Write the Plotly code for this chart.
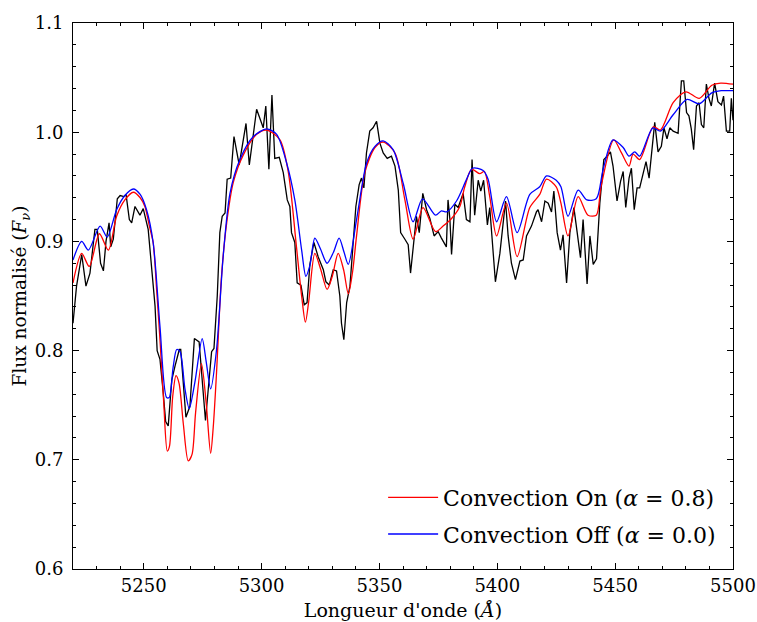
import plotly.graph_objects as go

# Observed spectrum (black)
obs_wl = [5220.0, 5221.5, 5223.7, 5225.5, 5227.2, 5229.3, 5230.3, 5231.7, 5232.9, 5234.0,
          5235.3, 5236.0, 5237.1, 5238.8, 5240.0, 5241.6, 5242.5, 5243.9, 5244.9, 5246.3,
          5248.4, 5249.8, 5251.9, 5253.4, 5254.8, 5255.7, 5256.9, 5258.3, 5259.3, 5260.4,
          5261.9, 5263.3, 5265.1, 5265.7, 5266.8, 5267.9, 5269.6, 5271.5, 5273.5, 5276.2,
          5278.8, 5279.8, 5281.2, 5282.3, 5283.3, 5284.5, 5285.4, 5286.9, 5288.3, 5290.5,
          5293.4, 5294.8, 5297.9, 5300.7, 5301.8, 5303.1, 5304.4, 5305.6, 5307.5, 5309.2,
          5310.9, 5312.0, 5312.7, 5314.1, 5315.1, 5316.7, 5318.1, 5319.3, 5320.5, 5322.2,
          5324.0, 5326.2, 5327.3, 5328.7, 5330.4, 5331.8, 5333.2, 5333.9, 5334.9, 5336.1,
          5337.5, 5338.9, 5340.0, 5341.4, 5342.4, 5343.4, 5344.5, 5345.9, 5347.3, 5348.8,
          5350.2, 5351.6, 5353.3, 5355.1, 5356.6, 5358.0, 5359.0, 5360.8, 5362.2, 5363.2,
          5364.3, 5365.7, 5366.9, 5368.4, 5370.0, 5371.4, 5373.2, 5374.9, 5376.3, 5378.4,
          5379.1, 5379.9, 5380.6, 5382.0, 5383.4, 5385.5, 5386.9, 5388.4, 5389.3, 5390.4,
          5391.9, 5393.0, 5394.2, 5395.8, 5396.8, 5397.8, 5399.2, 5401.1, 5402.5, 5403.5,
          5404.6, 5406.0, 5407.7, 5409.6, 5411.0, 5412.4, 5414.5, 5416.6, 5417.3, 5418.8,
          5420.2, 5421.6, 5423.0, 5424.0, 5425.4, 5426.8, 5427.9, 5429.4, 5430.8, 5432.5,
          5433.9, 5435.3, 5436.4, 5438.1, 5439.3, 5440.7, 5442.1, 5443.5, 5445.2, 5446.6,
          5448.0, 5449.1, 5450.8, 5452.3, 5453.4, 5454.5, 5455.9, 5456.9, 5458.1, 5459.3,
          5460.4, 5461.9, 5463.1, 5464.4, 5465.8, 5466.8, 5468.2, 5469.6, 5470.7, 5472.0,
          5473.2, 5474.6, 5476.7, 5478.1, 5479.1, 5480.3, 5481.3, 5482.3, 5483.3, 5484.5,
          5485.6, 5486.6, 5487.6, 5488.7, 5489.8, 5490.8, 5492.2, 5493.6, 5495.1, 5496.0,
          5497.2, 5498.6, 5499.3, 5500.0]
obs_flux = [0.825, 0.859, 0.888, 0.859, 0.871, 0.911, 0.911, 0.880, 0.873, 0.900,
            0.917, 0.895, 0.902, 0.939, 0.942, 0.941, 0.943, 0.920, 0.917, 0.932,
            0.924, 0.930, 0.911, 0.875, 0.841, 0.800, 0.792, 0.761, 0.735, 0.731,
            0.773, 0.786, 0.801, 0.801, 0.767, 0.739, 0.749, 0.811, 0.808, 0.736,
            0.799, 0.802, 0.850, 0.908, 0.923, 0.926, 0.957, 0.958, 0.996, 0.970,
            1.008, 0.970, 1.021, 1.004, 1.024, 0.966, 1.034, 0.976, 0.977, 0.963,
            0.938, 0.932, 0.908, 0.899, 0.862, 0.860, 0.842, 0.844, 0.879, 0.899,
            0.886, 0.874, 0.863, 0.860, 0.874, 0.873, 0.850, 0.825, 0.810, 0.844,
            0.859, 0.899, 0.932, 0.952, 0.958, 0.949, 0.981, 1.001, 1.004, 1.010,
            0.990, 0.981, 0.976, 0.978, 0.969, 0.947, 0.908, 0.902, 0.897, 0.871,
            0.892, 0.923, 0.908, 0.944, 0.929, 0.921, 0.905, 0.909, 0.903, 0.895,
            0.938, 0.920, 0.888, 0.934, 0.931, 0.944, 0.920, 0.918, 0.975, 0.924,
            0.956, 0.946, 0.956, 0.915, 0.931, 0.902, 0.863, 0.889, 0.917, 0.937,
            0.905, 0.880, 0.865, 0.882, 0.883, 0.905, 0.914, 0.927, 0.929, 0.918,
            0.937, 0.935, 0.927, 0.946, 0.908, 0.892, 0.906, 0.862, 0.908, 0.931,
            0.908, 0.885, 0.920, 0.861, 0.905, 0.879, 0.884, 0.935, 0.975, 0.978,
            0.982, 0.969, 0.937, 0.955, 0.964, 0.931, 0.958, 0.967, 0.929, 0.949,
            0.949, 0.964, 0.973, 0.958, 0.992, 1.009, 0.982, 0.987, 1.004, 0.994,
            1.004, 1.001, 0.999, 1.047, 1.047, 1.018, 1.015, 1.003, 0.984, 1.024,
            1.027, 1.007, 1.004, 1.044, 1.031, 1.024, 1.045, 1.028, 1.025, 1.033,
            1.001, 1.001, 1.031, 1.011]

# Model with convection (red)
on_wl = [5220.0, 5223.7, 5226.9, 5231.2, 5235.0, 5238.5, 5242.0, 5245.6, 5248.5, 5250.5,
         5252.5, 5254.0, 5255.5, 5256.9, 5258.5, 5260.0, 5260.9, 5262.3, 5263.7, 5265.0,
         5266.8, 5268.9, 5270.5, 5272.0, 5274.5, 5276.5, 5278.4, 5279.5, 5280.9, 5283.0,
         5285.2, 5288.0, 5292.2, 5297.9, 5302.1, 5307.8, 5311.3, 5314.8, 5317.0, 5318.6,
         5320.0, 5322.6, 5325.0, 5327.8, 5330.0, 5332.5, 5334.8, 5336.8, 5338.6, 5340.3,
         5343.8, 5348.1, 5351.6, 5356.6, 5360.8, 5364.3, 5368.5, 5373.8, 5377.0, 5380.6,
         5384.1, 5386.2, 5389.1, 5392.6, 5394.5, 5396.8, 5399.7, 5403.9, 5408.4, 5413.8,
         5418.0, 5420.9, 5425.0, 5427.0, 5430.0, 5434.3, 5438.5, 5442.0, 5444.0, 5449.4,
         5452.7, 5455.9, 5457.6, 5460.4, 5466.2, 5469.2, 5474.6, 5480.0, 5485.7, 5491.0,
         5494.8, 5500.0]
on_flux = [0.862, 0.889, 0.877, 0.907, 0.892, 0.923, 0.938, 0.945, 0.940, 0.932,
           0.913, 0.899, 0.855, 0.810, 0.752, 0.708, 0.712, 0.758, 0.777, 0.770,
           0.733, 0.699, 0.705, 0.743, 0.788, 0.752, 0.706, 0.730, 0.780, 0.868,
           0.917, 0.954, 0.979, 0.998, 1.002, 0.993, 0.964, 0.895, 0.850, 0.826,
           0.845, 0.889, 0.875, 0.856, 0.868, 0.889, 0.874, 0.852, 0.872, 0.905,
           0.963, 0.986, 0.991, 0.981, 0.938, 0.902, 0.931, 0.909, 0.914, 0.921,
           0.932, 0.950, 0.966, 0.962, 0.964, 0.941, 0.905, 0.935, 0.886, 0.931,
           0.943, 0.957, 0.950, 0.935, 0.905, 0.941, 0.924, 0.924, 0.950, 0.993,
           0.981, 0.969, 0.980, 0.975, 1.005, 1.002, 1.027, 1.037, 1.031, 1.043,
           1.045, 1.044]

# Model without convection (blue)
off_wl = [5220.0, 5223.7, 5226.5, 5231.5, 5234.5, 5238.5, 5242.0, 5245.6, 5248.5, 5251.2,
          5254.0, 5256.9, 5259.7, 5260.8, 5262.5, 5264.0, 5265.4, 5267.5, 5269.3, 5271.7,
          5274.8, 5276.5, 5278.4, 5280.9, 5283.7, 5286.6, 5290.8, 5296.5, 5302.1, 5306.4,
          5310.6, 5314.1, 5317.0, 5318.8, 5320.5, 5322.6, 5325.0, 5327.8, 5330.5, 5332.9,
          5335.0, 5336.8, 5340.3, 5344.6, 5348.1, 5351.6, 5355.8, 5360.1, 5364.3, 5368.3,
          5373.8, 5376.3, 5378.5, 5382.7, 5387.0, 5389.5, 5394.0, 5396.1, 5399.7, 5403.9,
          5408.4, 5413.8, 5418.0, 5420.9, 5425.0, 5427.0, 5430.0, 5434.3, 5438.0, 5442.0,
          5444.9, 5449.1, 5453.4, 5455.9, 5458.3, 5460.4, 5466.0, 5469.2, 5474.6, 5480.5,
          5485.7, 5491.0, 5495.0, 5500.0]
off_flux = [0.883, 0.900, 0.892, 0.914, 0.904, 0.929, 0.942, 0.948, 0.943, 0.929,
            0.899, 0.822, 0.757, 0.757, 0.785, 0.801, 0.799, 0.765, 0.747, 0.771,
            0.811, 0.790, 0.765, 0.801, 0.886, 0.944, 0.975, 0.996, 1.003, 0.998,
            0.972, 0.938, 0.892, 0.868, 0.878, 0.903, 0.893, 0.880, 0.890, 0.903,
            0.890, 0.879, 0.920, 0.972, 0.987, 0.992, 0.984, 0.953, 0.918, 0.939,
            0.924, 0.928, 0.927, 0.937, 0.957, 0.967, 0.965, 0.957, 0.918, 0.941,
            0.908, 0.943, 0.950, 0.960, 0.956, 0.950, 0.923, 0.947, 0.938, 0.939,
            0.966, 0.993, 0.986, 0.978, 0.982, 0.978, 1.004, 1.001, 1.016, 1.030,
            1.026, 1.036, 1.038, 1.038]

FONT = "DejaVu Serif"

fig = go.Figure()
fig.add_trace(go.Scatter(x=obs_wl, y=obs_flux, mode="lines",
                         line=dict(color="#000000", width=1.3), showlegend=False))
fig.add_trace(go.Scatter(x=on_wl, y=on_flux, mode="lines", name="Convection On (<i>α</i> = 0.8)",
                         line=dict(color="#ff0000", width=1.3, shape="spline", smoothing=0.8),
                         legendgroup="on"))
fig.add_trace(go.Scatter(x=off_wl, y=off_flux, mode="lines", name="Convection Off (<i>α</i> = 0.0)",
                         line=dict(color="#0000ff", width=1.3, shape="spline", smoothing=0.8),
                         legendgroup="off"))

axis_common = dict(showgrid=False, zeroline=False, showline=True, linecolor="#000000",
                   linewidth=1, mirror="ticks", ticks="inside", ticklen=6, tickwidth=1,
                   tickcolor="#000000", automargin=False, ticklabeloverflow="allow",
                   tickfont=dict(family=FONT, size=18, color="#000000"))

fig.update_xaxes(range=[5220, 5500], dtick=50, tick0=5250,
                 minor=dict(dtick=10, ticks="inside", ticklen=3, tickcolor="#000000"),
                 title=dict(text="Longueur d'onde (<i>Å</i>)",
                            font=dict(family=FONT, size=19, color="#000000"), standoff=9),
                 ticklabelstandoff=0,
                 **axis_common)
fig.update_yaxes(range=[0.6, 1.1], dtick=0.1, tickformat=".1f",
                 minor=dict(dtick=0.02, ticks="inside", ticklen=3, tickcolor="#000000"),
                 title=dict(text="Flux normalisé (<i>F</i><sub><i>ν</i></sub>)",
                            font=dict(family=FONT, size=18.5, color="#000000"), standoff=3),
                 ticklabelstandoff=5,
                 **axis_common)

fig.update_layout(
    width=757, height=622,
    margin=dict(l=73, r=24, t=23, b=53),
    paper_bgcolor="white", plot_bgcolor="white",
    legend=dict(x=0.982, y=0.0245, xanchor="right", yanchor="bottom",
                bgcolor="rgba(0,0,0,0)", borderwidth=0,
                font=dict(family=FONT, size=22, color="#000000"),
                tracegroupgap=5, traceorder="grouped", itemwidth=50),
)

# remove the default 8 px page margin so the figure fills the window exactly
fig.write_html("out.html",
               config={"displayModeBar": False},
               post_script="document.body.style.margin='0';document.body.style.overflow='hidden';")
